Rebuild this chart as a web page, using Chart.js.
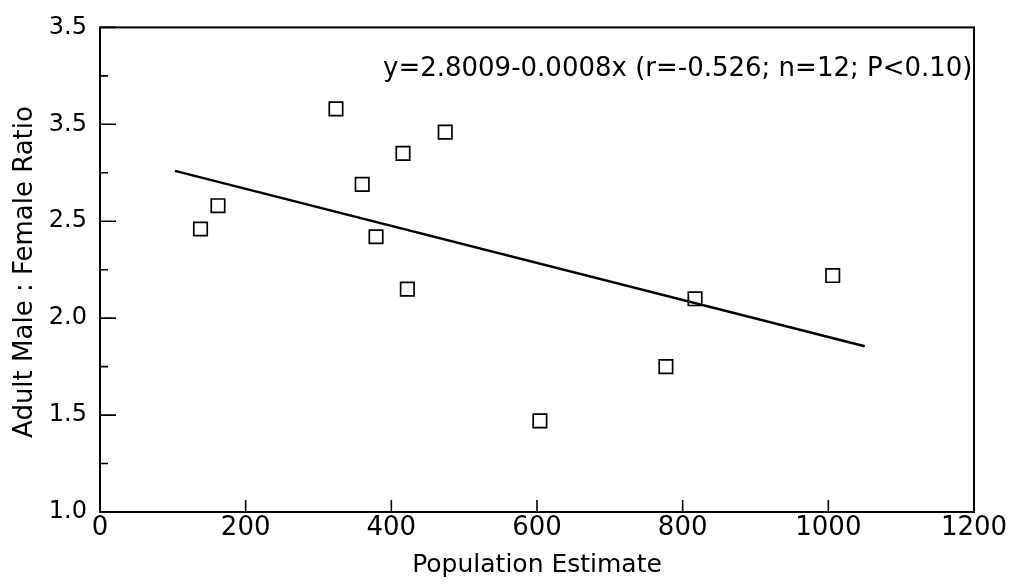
<!DOCTYPE html>
<html>
<head>
<meta charset="utf-8">
<script src="https://cdn.jsdelivr.net/npm/chart.js@4.4.1/dist/chart.umd.min.js"></script>
<style>
  html, body { margin: 0; padding: 0; background: #fff; }
  #wrap { width: 1011px; height: 584px; }
</style>
</head>
<body>
<div id="wrap"><canvas id="myChart"></canvas></div>
<script>
// population estimate vs adult male:female ratio
var popEstimate = [138, 162, 324, 360, 379, 416, 422, 474, 604, 777, 817, 1006];
var mfRatio = [2.46, 2.58, 3.08, 2.69, 2.42, 2.85, 2.15, 2.96, 1.47, 1.75, 2.10, 2.22];

// fitted line as drawn (ends)
var fitX = [103, 1050];
var fitY = [2.76, 1.855];

var xTicks = [0, 200, 400, 600, 800, 1000, 1200];
var yTickLabels = ['1.0', '1.5', '2.0', '2.5', '3.5', '3.5'];   // printed this way in the figure
var eqText = 'y=2.8009-0.0008x (r=-0.526; n=12; P<0.10)';

var FONT = '"DejaVu Sans", sans-serif';

var pageObj = {};

pageObj.frame = {
    id: 'frame',
    afterDatasetsDraw: function (chart) {
        var ctx = chart.ctx;
        var a = chart.chartArea;
        var xs = chart.scales.x, ys = chart.scales.y;
        ctx.save();
        ctx.strokeStyle = '#000';
        ctx.lineWidth = 2;
        ctx.strokeRect(a.left, a.top, a.right - a.left, a.bottom - a.top);

        // inward ticks, y: major + minor
        ctx.lineWidth = 1.6;
        ctx.beginPath();
        ys.ticks.forEach(function (t, i) {
            var py = ys.getPixelForValue(t.value);
            ctx.moveTo(a.left, py);
            ctx.lineTo(a.left + 16, py);
            if (i < ys.ticks.length - 1) {
                var my = ys.getPixelForValue((t.value + ys.ticks[i + 1].value) / 2);
                ctx.moveTo(a.left, my);
                ctx.lineTo(a.left + 8, my);
            }
        });
        // x: major only
        xs.ticks.forEach(function (t) {
            var px = xs.getPixelForValue(t.value);
            ctx.moveTo(px, a.bottom);
            ctx.lineTo(px, a.bottom - 12);
        });
        ctx.stroke();

        // equation
        ctx.fillStyle = '#000';
        ctx.font = '26px ' + FONT;
        ctx.textAlign = 'left';
        ctx.textBaseline = 'alphabetic';
        ctx.fillText(eqText, 383, 76);

        // y title
        ctx.font = '26px ' + FONT;
        ctx.translate(32, 272);
        ctx.rotate(-Math.PI / 2);
        ctx.textAlign = 'center';
        ctx.fillText('Adult Male : Female Ratio', 0, 0);
        ctx.restore();
    }
};

pageObj.chartView = function () {
    var pts = popEstimate.map(function (v, i) { return {x: v, y: mfRatio[i]}; });
    var fit = fitX.map(function (v, i) { return {x: v, y: fitY[i]}; });

    var config = {
        type: 'scatter',
        data: {
            datasets: [{
                label: 'ratio',
                data: pts,
                pointStyle: 'rect',
                pointRadius: 9.5,
                pointHoverRadius: 9.5,
                borderColor: '#000',
                backgroundColor: 'rgba(255,255,255,0)',
                borderWidth: 1.7
            }, {
                label: 'fit',
                type: 'line',
                data: fit,
                borderColor: '#000',
                borderWidth: 2.4,
                pointRadius: 0,
                fill: false
            }]
        },
        options: {
            responsive: true,
            maintainAspectRatio: false,
            animation: false,
            devicePixelRatio: 1,
            layout: {padding: {top: 17, right: 37, bottom: 0, left: 0}},
            plugins: {
                legend: {display: false},
                tooltip: {enabled: false}
            },
            scales: {
                x: {
                    type: 'linear',
                    min: 0,
                    max: 1200,
                    afterBuildTicks: function (s) {
                        s.ticks = xTicks.map(function (v) { return {value: v}; });
                    },
                    afterFit: function (s) { s.height = 72; },
                    grid: {display: false, drawTicks: false},
                    border: {display: false},
                    ticks: {
                        padding: 1,
                        color: '#000',
                        font: {family: FONT, size: 26},
                        maxRotation: 0,
                        callback: function (v) { return String(v); }
                    },
                    title: {
                        display: true,
                        text: 'Population Estimate',
                        color: '#000',
                        font: {family: FONT, size: 25},
                        padding: {top: 0, bottom: 4}
                    }
                },
                y: {
                    type: 'linear',
                    min: 1.0,
                    max: 3.5,
                    ticks: {
                        stepSize: 0.5,
                        padding: 13,
                        color: '#000',
                        font: {family: FONT, size: 24},
                        callback: function (v, i) { return yTickLabels[i]; }
                    },
                    afterFit: function (s) { s.width = 100; },
                    grid: {display: false, drawTicks: false},
                    border: {display: false},
                    title: {display: false}
                }
            }
        },
        plugins: [pageObj.frame]
    };

    new Chart(document.getElementById('myChart'), config);
};

pageObj.chartView();
</script>
</body>
</html>
